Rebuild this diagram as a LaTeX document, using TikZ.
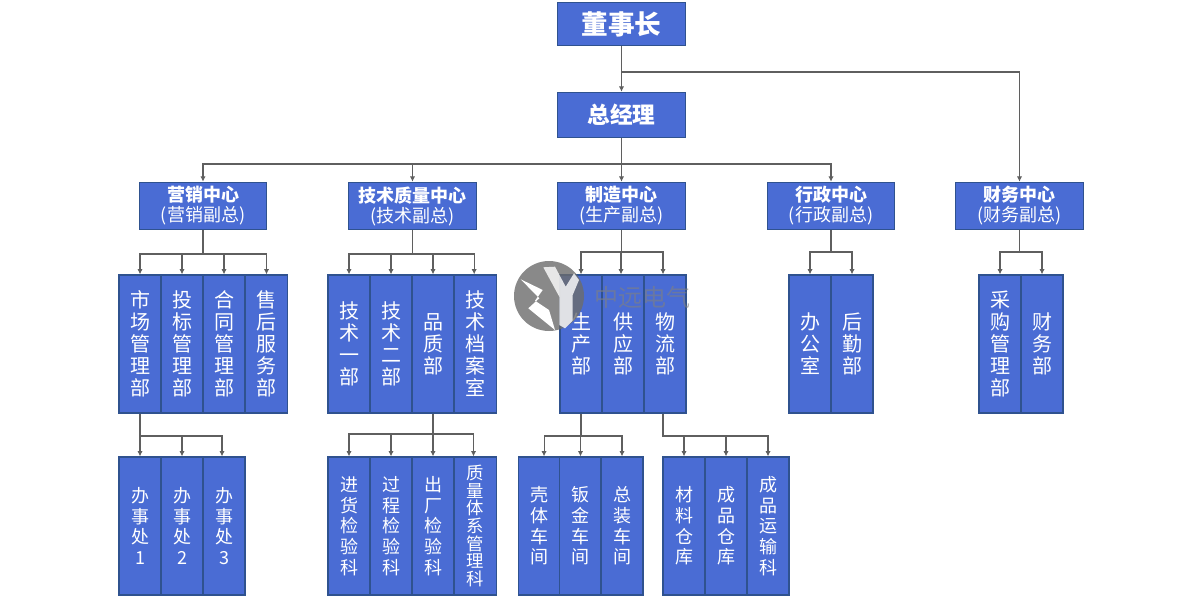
\documentclass[tikz,border=0pt]{standalone}
\usepackage{fontspec}
\setmainfont{Noto Sans CJK SC}
\usetikzlibrary{arrows.meta}
\definecolor{boxfill}{HTML}{4A6CD4}
\definecolor{boxedge}{HTML}{2F528F}
\definecolor{linkgray}{HTML}{5F5F5F}
\tikzset{
    orgbox/.style={draw=boxedge, fill=boxfill, line width=0.9pt, text=white, align=center, inner sep=0pt},
    topbox/.style={orgbox, minimum width=96pt, font=\bfseries},
    centerbox/.style={orgbox, minimum width=95.5pt, minimum height=35.5pt, font=\fontsize{13.5pt}{15pt}\selectfont},
    deptbox/.style={orgbox, minimum width=31.5pt, minimum height=103.5pt, font=\fontsize{15pt}{16.5pt}\selectfont},
    unitbox/.style={orgbox, minimum width=31.5pt, minimum height=103.5pt, font=\fontsize{13.5pt}{15.5pt}\selectfont},
    link/.style={draw=linkgray, line width=0.8pt},
    linkto/.style={link, -{Latex[length=4pt,width=4pt]}}
}
\begin{document}
\begin{tikzpicture}[x=0.75pt,y=-0.75pt]
    \useasboundingbox (0,0) rectangle (1200,600);
    % top
    \node[topbox, minimum height=32.5pt, font=\bfseries\fontsize{20pt}{22pt}\selectfont] (chair) at (621.5,24) {董事长};
    \node[topbox, minimum height=34pt, font=\bfseries\fontsize{17pt}{19pt}\selectfont] (gm) at (621.5,115) {总经理};
    % centres
    \foreach \name/\xpos/\head/\sub in {sales/203/营销中心/营销副总, tech/412.5/技术质量中心/技术副总, make/621.5/制造中心/生产副总, admin/831/行政中心/行政副总, fin/1019.5/财务中心/财务副总}
        \node[centerbox] (\name) at (\xpos,206) {\textbf{\head}\\(\sub)};
    % departments
    \foreach \name/\xpos/\label in {
        sa/140/市\\场\\管\\理\\部, sb/182/投\\标\\管\\理\\部, sc/224/合\\同\\管\\理\\部, sd/266.5/售\\后\\服\\务\\部,
        ta/349/技\\术\\一\\部, tb/391/技\\术\\二\\部, tc/433/品\\质\\部, td/475.5/技\\术\\档\\案\\室,
        ma/581/生\\产\\部, mb/623/供\\应\\部, mc/665/物\\流\\部,
        aa/810/办\\公\\室, ab/852/后\\勤\\部,
        fa/1000/采\\购\\管\\理\\部, fb/1042/财\\务\\部}
        \node[deptbox] (\name) at (\xpos,344) {\label};
    % offices and workshops
    \foreach \name/\xpos/\label in {
        oa/140/办\\事\\处\\1, ob/182/办\\事\\处\\2, oc/224/办\\事\\处\\3,
        qa/349/进\\货\\检\\验\\科, qb/391/过\\程\\检\\验\\科, qc/433/出\\厂\\检\\验\\科,
        wa/539.5/壳\\体\\车\\间, wb/580.5/钣\\金\\车\\间, wc/622/总\\装\\车\\间,
        ka/684/材\\料\\仓\\库, kb/726/成\\品\\仓\\库, kc/768/成\\品\\运\\输\\科}
        \node[unitbox] (\name) at (\xpos,526) {\label};
    \node[unitbox, font=\fontsize{13pt}{13.2pt}\selectfont] (qd) at (475.5,526) {质\\量\\体\\系\\管\\理\\科};
    % links
    \draw[linkto] (chair) -- (gm);
    \draw[linkto] (chair.south) |- (621.5,72) -| (fin.north);
    \draw[linkto] (gm) -- (make);
    \foreach \to in {sales,tech,admin}
        \draw[linkto] (gm.south) |- (621.5,164) -| (\to.north);
    \foreach \to in {sa,sb,sc,sd}
        \draw[linkto] (sales.south) |- (203,254) -| (\to.north);
    \foreach \to/\nudge in {ta/0,tb/0,tc/0,td/-1}
        \draw[linkto] (tech.south) |- (412.5,254) -| ([xshift=\nudge]\to.north);
    \foreach \to/\nudge in {ma/0,mb/-1.5,mc/-1.5}
        \draw[linkto] (make.south) |- (621.5,252) -| ([xshift=\nudge]\to.north);
    \foreach \to in {aa,ab}
        \draw[linkto] (admin.south) |- (831,252) -| (\to.north);
    \foreach \to in {fa,fb}
        \draw[linkto] (fin.south) |- (1019.5,252) -| (\to.north);
    \foreach \to/\nudge in {oa/0,ob/0,oc/-1.5}
        \draw[linkto] (oa|-sa.south) |- (140,436) -| ([xshift=\nudge]\to.north);
    \foreach \to/\nudge in {qa/0,qb/0,qc/0,qd/-1.5}
        \draw[linkto] (tc.south) |- (433,434) -| ([xshift=\nudge]\to.north);
    \foreach \to/\nudge in {wa/3.4,wb/0,wc/0}
        \draw[linkto] (ma.south) |- (581,436) -| ([xshift=\nudge]\to.north);
    \foreach \to in {ka,kb,kc}
        \draw[linkto] ([xshift=-1.5]mc.south) |- (663,436) -| (\to.north);
    % watermark
    \fill[gray!85!black, opacity=0.8] (549,296) circle (35);
    \fill[white] (520.7,279.3) -- (542.7,290) -- (535,300.7) -- (549,310) -- (555,330) -- (528.3,308.3) -- (539.3,298.3) -- cycle;
    \fill[white, opacity=0.8] (543.3,267.3) -- (555,266.7) -- (565.7,286.7) -- (574,273.3) -- (579,280) -- (572.7,295) -- (572.7,320.7) -- (565,328.3) -- (559.3,325) -- (559.3,296.7) -- cycle;
    \node[text=gray, opacity=0.6, font=\fontsize{18pt}{20pt}\selectfont, inner sep=0pt] (mark) at (642,297) {中远电气};
\end{tikzpicture}
\end{document}
